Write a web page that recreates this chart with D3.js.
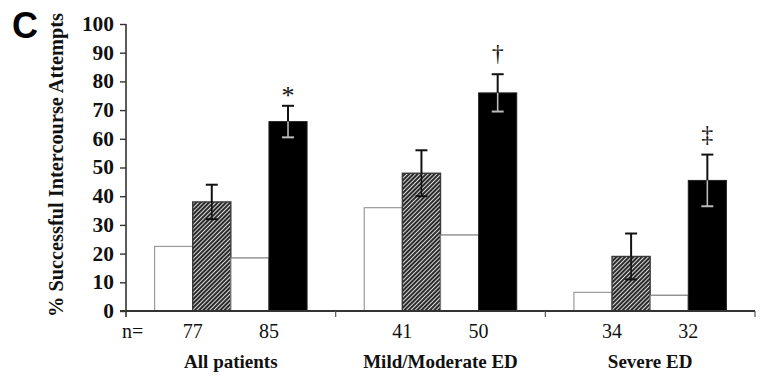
<!DOCTYPE html>
<html>
<head>
<meta charset="utf-8">
<script src="https://cdn.jsdelivr.net/npm/d3@7"></script>
<style>
  html, body { margin: 0; padding: 0; background: #fff; }
  svg { display: block; }
  .serif { font-family: "Liberation Serif", "Times New Roman", serif; }
</style>
</head>
<body>
<svg id="chart" width="760" height="382"></svg>
<script>
// Groups of patients
const groups = ["All patients", "Mild/Moderate ED", "Severe ED"];
// Four bars per group: baseline/treatment pairs for two arms
const seriesKeys = ["base1", "treat1", "base2", "treat2"];
// % successful intercourse attempts
const base1Values  = [22.5, 36, 6.5];
const treat1Values = [38, 48, 19];
const base2Values  = [18.5, 26.5, 5.5];
const treat2Values = [66, 76, 45.5];
// Error bar half-widths for the treatment bars
const treat1Err = [6, 8, 8];
const treat2Err = [5.5, 6.5, 9];
// Sample sizes shown under each pair
const nLabels1 = ["77", "41", "34"];
const nLabels2 = ["85", "50", "32"];
// Significance markers over the second treatment bars
const sigMarks = ["*", "\u2020", "\u2021"];
const yTicks = [0, 10, 20, 30, 40, 50, 60, 70, 80, 90, 100];

const svg = d3.select("#chart");

const x0 = d3.scaleBand().domain(groups).range([126, 755]).padding(0);
const x1 = d3.scaleBand().domain(seriesKeys).range([0, x0.bandwidth()])
  .paddingInner(0).paddingOuter(0.75);
const y = d3.scaleLinear().domain([0, 100]).range([311, 24]);

// hatch pattern for the first treatment arm
const defs = svg.append("defs");
const pat = defs.append("pattern")
  .attr("id", "hatch").attr("patternUnits", "userSpaceOnUse")
  .attr("width", 3).attr("height", 3)
  .attr("patternTransform", "rotate(45)");
pat.append("rect").attr("width", 3).attr("height", 3).attr("fill", "#eeeeee");
pat.append("rect").attr("x", 0).attr("y", 0).attr("width", 2.1).attr("height", 3).attr("fill", "#2a2a2a");

const table = groups.map((g, i) => ({
  group: g,
  bars: [
    { key: "base1", v: base1Values[i] },
    { key: "treat1", v: treat1Values[i], err: treat1Err[i] },
    { key: "base2", v: base2Values[i] },
    { key: "treat2", v: treat2Values[i], err: treat2Err[i], mark: sigMarks[i] }
  ],
  n1: nLabels1[i], n2: nLabels2[i]
}));

const style = {
  base1:  { fill: "#fff", stroke: "#9a9a9a", sw: 1.2 },
  treat1: { fill: "url(#hatch)", stroke: "#3a3a3a", sw: 1.4 },
  base2:  { fill: "#fff", stroke: "#7a7a7a", sw: 1.2 },
  treat2: { fill: "#000", stroke: "#222", sw: 1 }
};

const g = svg.append("g").selectAll("g").data(table).join("g")
  .attr("transform", d => `translate(${x0(d.group)},0)`);

g.selectAll("rect.bar").data(d => d.bars).join("rect")
  .attr("class", "bar")
  .attr("x", d => x1(d.key))
  .attr("y", d => y(d.v))
  .attr("width", x1.bandwidth())
  .attr("height", d => y(0) - y(d.v))
  .attr("fill", d => style[d.key].fill)
  .attr("stroke", d => style[d.key].stroke)
  .attr("stroke-width", d => style[d.key].sw);

// error bars: upper half in black, lower half drawn over the bar
const capW = 12;
const withErr = g.selectAll("g.err").data(d => d.bars.filter(b => b.err != null)).join("g")
  .attr("class", "err")
  .attr("transform", d => `translate(${x1(d.key) + x1.bandwidth() / 2},0)`);
withErr.append("line")
  .attr("x1", 0).attr("x2", 0)
  .attr("y1", d => y(d.v)).attr("y2", d => y(d.v + d.err))
  .attr("stroke", "#111").attr("stroke-width", 2);
withErr.append("line")
  .attr("x1", -capW / 2).attr("x2", capW / 2)
  .attr("y1", d => y(d.v + d.err)).attr("y2", d => y(d.v + d.err))
  .attr("stroke", "#111").attr("stroke-width", 2);
const lowColor = d => d.key === "treat2" ? "#bbbbbb" : "#111";
withErr.append("line")
  .attr("x1", 0).attr("x2", 0)
  .attr("y1", d => y(d.v)).attr("y2", d => y(d.v - d.err))
  .attr("stroke", lowColor).attr("stroke-width", 1.6);
withErr.append("line")
  .attr("x1", -capW / 2).attr("x2", capW / 2)
  .attr("y1", d => y(d.v - d.err)).attr("y2", d => y(d.v - d.err))
  .attr("stroke", lowColor).attr("stroke-width", 2);

// significance markers above the upper caps
const markLift = { "*": 2, "\u2020": 13, "\u2021": 13 };
withErr.filter(d => d.mark).append("text")
  .attr("class", "serif")
  .attr("x", 0)
  .attr("y", d => y(d.v + d.err) - markLift[d.mark])
  .attr("text-anchor", "middle")
  .attr("font-size", d => d.mark === "*" ? 26 : 24)
  .attr("fill", "#111")
  .text(d => d.mark);

// y axis
const yAxis = d3.axisLeft(y).tickValues(yTicks).tickSize(6).tickPadding(6);
const ya = svg.append("g").attr("transform", "translate(126,0)").call(yAxis);
ya.select(".domain").attr("stroke", "#333").attr("stroke-width", 1.6)
  .attr("d", `M0,${y(100)}V${y(0) + 6}`);
ya.selectAll(".tick line").attr("stroke", "#333").attr("stroke-width", 1.4);
ya.selectAll(".tick text")
  .attr("class", "serif")
  .attr("font-size", 20).attr("font-weight", "bold").attr("fill", "#111")
  .attr("textLength", d => String(d).length * 10.7)
  .attr("lengthAdjust", "spacingAndGlyphs");

// x baseline with group separators
const bounds = groups.map(d => x0(d)).concat([x0.range()[1]]);
svg.append("line")
  .attr("x1", 120).attr("x2", x0.range()[1])
  .attr("y1", y(0)).attr("y2", y(0))
  .attr("stroke", "#333").attr("stroke-width", 2);
svg.append("g").selectAll("line").data(bounds.slice(1)).join("line")
  .attr("x1", d => d).attr("x2", d => d)
  .attr("y1", y(0)).attr("y2", y(0) + 6)
  .attr("stroke", "#555").attr("stroke-width", 1.2);

// n labels
svg.append("text").attr("class", "serif")
  .attr("x", 122).attr("y", 338).attr("font-size", 20).attr("fill", "#111")
  .text("n=");
g.append("text").attr("class", "serif")
  .attr("x", x1("treat1")).attr("y", 338).attr("text-anchor", "middle")
  .attr("font-size", 20).attr("fill", "#111")
  .text(d => d.n1);
g.append("text").attr("class", "serif")
  .attr("x", x1("treat2")).attr("y", 338).attr("text-anchor", "middle")
  .attr("font-size", 20).attr("fill", "#111")
  .text(d => d.n2);

// group labels
g.append("text").attr("class", "serif")
  .attr("x", x0.bandwidth() / 2).attr("y", 368).attr("text-anchor", "middle")
  .attr("font-size", 19).attr("font-weight", "bold").attr("fill", "#111")
  .text(d => d.group);

// y axis title
svg.append("text").attr("class", "serif")
  .attr("transform", `translate(63,165) rotate(-90)`)
  .attr("text-anchor", "middle")
  .attr("font-size", 20).attr("font-weight", "bold").attr("fill", "#111")
  .attr("textLength", 304).attr("lengthAdjust", "spacingAndGlyphs")
  .text("% Successful Intercourse Attempts");

// panel letter
svg.append("text")
  .attr("x", 12).attr("y", 38)
  .attr("font-family", "Liberation Sans, Arial, sans-serif")
  .attr("font-size", 36).attr("font-weight", "bold").attr("fill", "#000")
  .text("C");
</script>
</body>
</html>
